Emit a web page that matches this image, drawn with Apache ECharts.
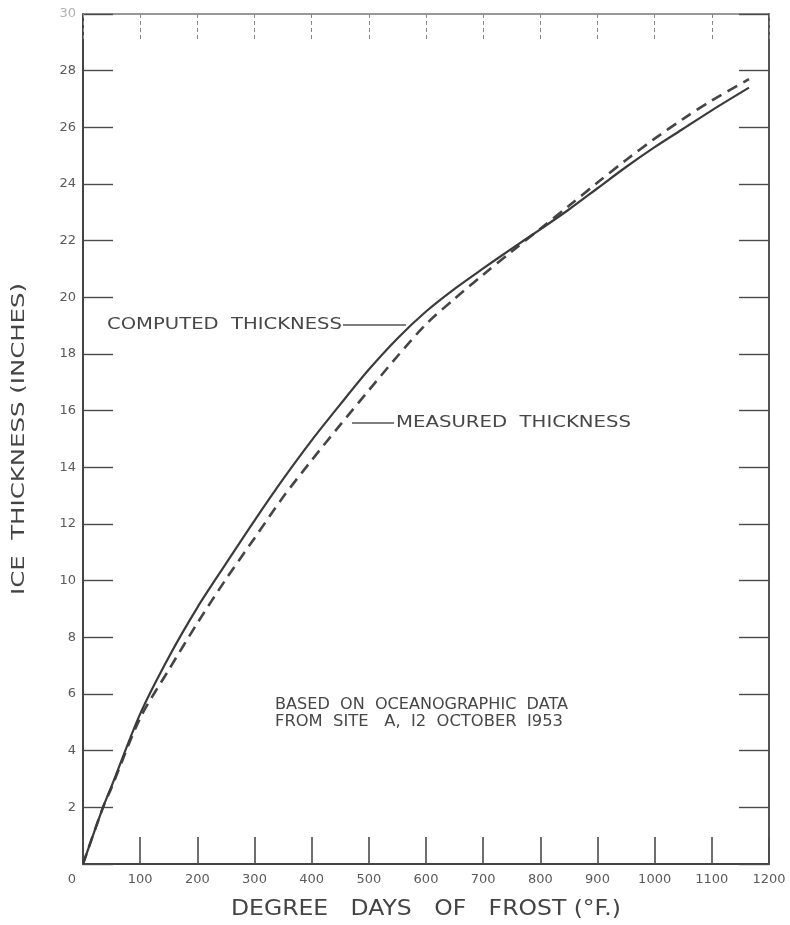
<!DOCTYPE html>
<html>
<head>
<meta charset="utf-8">
<title>Ice thickness vs degree days of frost</title>
<script src="https://cdn.jsdelivr.net/npm/echarts@6/dist/echarts.min.js"></script>
<style>
  html, body { margin: 0; padding: 0; background: #ffffff; }
  #chart { width: 790px; height: 925px; }
</style>
</head>
<body>
<div id="chart"></div>
<script>
// Degree days of frost (°F) at which the curves are sampled
const degreeDays = [0, 35, 50, 100, 150, 200, 250, 300, 350, 400, 450, 500, 550, 600,
  650, 700, 750, 800, 850, 900, 950, 1000, 1050, 1100, 1165];

// Computed ice thickness (inches)
const computedThickness = [0, 2.0, 2.75, 5.3, 7.3, 9.05, 10.6, 12.12, 13.58, 14.95, 16.22, 17.45,
  18.55, 19.5, 20.3, 21.02, 21.72, 22.4, 23.1, 23.85, 24.6, 25.3, 25.95, 26.6, 27.4];

// Measured ice thickness (inches)
const measuredThickness = [0, 2.0, 2.7, 5.15, 6.85, 8.5, 10.05, 11.5, 12.95, 14.25, 15.5, 16.72,
  17.92, 19.05, 19.95, 20.8, 21.62, 22.42, 23.23, 24.05, 24.85, 25.6, 26.3, 26.95, 27.7];

// Axis ranges and tick steps
const xRange = [0, 1200];
const xStep = 100;
const yRange = [0, 30];
const yStep = 2;

// Text drawn on the chart
const xTitle = 'DEGREE   DAYS   OF   FROST (°F.)';
const yTitle = 'ICE  THICKNESS (INCHES)';
const computedLabel = 'COMPUTED  THICKNESS';
const measuredLabel = 'MEASURED  THICKNESS';
const noteLines = ['BASED  ON  OCEANOGRAPHIC  DATA', 'FROM  SITE   A,  I2  OCTOBER  I953'];

const INK = '#3b3b3b';
const LABEL_INK = '#5a5a5a';
const FONT = '"DejaVu Sans", "Liberation Sans", sans-serif';

// Horizontal stretch factor so a string spans a given width
const measureCtx = document.createElement('canvas').getContext('2d');
function stretch(text, font, width) {
  measureCtx.font = font;
  return width / measureCtx.measureText(text).width;
}

function pairs(xs, ys) {
  return xs.map((x, i) => [x, ys[i]]);
}

function stretchedText(text, x, y, size, width, opts) {
  const font = (opts && opts.weight ? opts.weight + ' ' : '') + size + 'px ' + FONT;
  const align = (opts && opts.align) || 'left';
  return {
    type: 'text',
    x: x,
    y: y,
    rotation: (opts && opts.rotation) || 0,
    scaleX: stretch(text, font, width),
    silent: true,
    style: {
      text: text,
      font: font,
      fill: (opts && opts.fill) || '#444',
      textAlign: align,
      align: align,
      textVerticalAlign: 'middle',
      verticalAlign: 'middle'
    }
  };
}

const chart = echarts.init(document.getElementById('chart'), null, { renderer: 'canvas' });

const option = {
  backgroundColor: '#ffffff',
  animation: false,
  grid: { left: 83, right: 21, top: 14, bottom: 61, containLabel: false },
  xAxis: [
    {
      type: 'value',
      position: 'bottom',
      min: xRange[0], max: xRange[1], interval: xStep,
      axisLine: { show: true, onZero: false, lineStyle: { color: '#444', width: 2 } },
      axisTick: { show: true, inside: true, length: 27, lineStyle: { color: '#4a4a4a', width: 1.6 } },
      axisLabel: {
        show: true, margin: 9,
        fontFamily: FONT, fontSize: 13, color: LABEL_INK,
        formatter: v => (v === 0 ? '{o|0}' : String(v)),
        rich: { o: { fontFamily: FONT, fontSize: 13, color: LABEL_INK, padding: [0, 22, 0, 0] } }
      },
      splitLine: { show: false }
    },
    {
      type: 'value',
      position: 'top',
      min: xRange[0], max: xRange[1], interval: xStep,
      axisLine: { show: true, onZero: false, lineStyle: { color: '#777', width: 1.5 } },
      axisTick: { show: true, inside: true, length: 28, lineStyle: { color: '#888', width: 1, type: [4, 3] } },
      axisLabel: { show: false },
      splitLine: { show: false }
    }
  ],
  yAxis: [
    {
      type: 'value',
      position: 'left',
      min: yRange[0], max: yRange[1], interval: yStep,
      axisLine: { show: true, onZero: false, lineStyle: { color: '#444', width: 2 } },
      axisTick: { show: true, inside: true, length: 30, lineStyle: { color: '#4a4a4a', width: 1.4 } },
      axisLabel: {
        show: true, margin: 7,
        fontFamily: FONT, fontSize: 13,
        color: v => (Number(v) === 30 ? '#b0b0b0' : LABEL_INK),
        formatter: v => (v === 0 ? '' : String(v))
      },
      splitLine: { show: false }
    },
    {
      type: 'value',
      position: 'right',
      min: yRange[0], max: yRange[1], interval: yStep,
      axisLine: { show: true, onZero: false, lineStyle: { color: '#555', width: 2 } },
      axisTick: { show: true, inside: true, length: 30, lineStyle: { color: '#4a4a4a', width: 1.4 } },
      axisLabel: { show: false },
      splitLine: { show: false }
    }
  ],
  series: [
    {
      name: 'Computed thickness',
      type: 'line',
      xAxisIndex: 0, yAxisIndex: 0,
      data: pairs(degreeDays, computedThickness),
      smooth: 0.3,
      showSymbol: false,
      lineStyle: { color: INK, width: 2.2, type: 'solid' },
      z: 3
    },
    {
      name: 'Measured thickness',
      type: 'line',
      xAxisIndex: 0, yAxisIndex: 0,
      data: pairs(degreeDays, measuredThickness),
      smooth: 0.3,
      showSymbol: false,
      lineStyle: { color: '#454545', width: 2.6, type: [11, 7] },
      z: 2
    }
  ],
  graphic: [
    // axis titles
    stretchedText(xTitle, 426, 910, 21, 390, { align: 'center', fill: '#444' }),
    stretchedText(yTitle, 19, 439, 18, 312, { align: 'center', rotation: Math.PI / 2, fill: '#444' }),
    // curve labels with leaders
    stretchedText(computedLabel, 107, 325, 15, 235, { fill: '#474747' }),
    { type: 'line', silent: true, shape: { x1: 343, y1: 325, x2: 406, y2: 325 }, style: { stroke: '#555', lineWidth: 1.3 } },
    stretchedText(measuredLabel, 396, 423, 15, 235, { fill: '#474747' }),
    { type: 'line', silent: true, shape: { x1: 352, y1: 423, x2: 394, y2: 423 }, style: { stroke: '#555', lineWidth: 1.3 } },
    // data source note
    stretchedText(noteLines[0], 275, 705, 15, 293, { fill: '#474747' }),
    stretchedText(noteLines[1], 275, 722, 15, 288, { fill: '#474747' })
  ]
};

chart.setOption(option);
</script>
</body>
</html>
